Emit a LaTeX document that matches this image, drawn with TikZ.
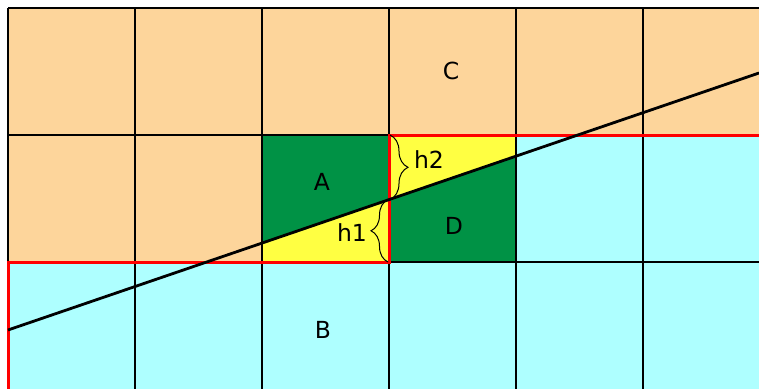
\documentclass[tikz,border=0pt]{standalone}
\usepackage{fontspec}
\setmainfont{DejaVu Sans}
\usetikzlibrary{decorations.pathreplacing}
\definecolor{peach}{RGB}{253,213,155}
\definecolor{aqua}{RGB}{174,255,255}
\definecolor{dgreen}{RGB}{0,146,69}
\definecolor{yel}{RGB}{255,255,66}
\tikzset{
  gridline/.style={black,line width=1.3pt},
  redline/.style={red,line width=3pt},
  mainline/.style={black,line width=2.8pt},
  bracestyle/.style={black,line width=1pt,decorate},
  biglabel/.style={font=\fontsize{23.5}{27}\selectfont,inner sep=0pt},
}
\begin{document}
\begin{tikzpicture}[x=1pt,y=-1pt]
\useasboundingbox (0,0) rectangle (759,388);
\clip (0,0) rectangle (759,388);
% fills
\fill[peach] (8,8) -- (770,8) -- (770,135) -- (389,135) -- (389,262) -- (8,262) -- cycle;
\fill[aqua] (8,262) -- (389,262) -- (389,135) -- (770,135) -- (770,400) -- (8,400) -- cycle;
\fill[yel] (262,135) rectangle (516,262);
\fill[dgreen] (262,135) -- (389,135) -- (389,199.6) -- (262,243.1) -- cycle;
\fill[dgreen] (389,199.6) -- (516,156.2) -- (516,262) -- (389,262) -- cycle;
% grid
\draw[gridline] (8,8) -- (770,8);
\draw[gridline] (8,135) -- (770,135);
\draw[gridline] (8,262) -- (770,262);
\foreach \x in {8,135,262,389,516,643} \draw[gridline] (\x,8) -- (\x,400);
% red staircase
\draw[redline] (770,135) -- (389,135) -- (389,262) -- (8,262) -- (8,400);
% coordinates
\coordinate (L1) at (8,330);
\coordinate (L2) at (759,73);
\coordinate (T) at (389,135);
\coordinate (M) at (389,199.6);
\coordinate (Bt) at (389,262);
\draw[mainline] (L1) -- (L2);
% braces
\draw[bracestyle,decoration={brace,amplitude=18pt,raise=1pt}] (T) -- (M);
\draw[bracestyle,decoration={brace,amplitude=17pt,raise=1pt}] (Bt) -- (M);
% labels
\node[biglabel] (lC) at (451,71) {C};
\node[biglabel] (lA) at (322,182) {A};
\node[biglabel] (lD) at (454,226) {D};
\node[biglabel] (lB) at (323,330) {B};
\node[biglabel] (lh2) at (429,160) {h2};
\node[biglabel] (lh1) at (352,233) {h1};
\end{tikzpicture}
\end{document}
